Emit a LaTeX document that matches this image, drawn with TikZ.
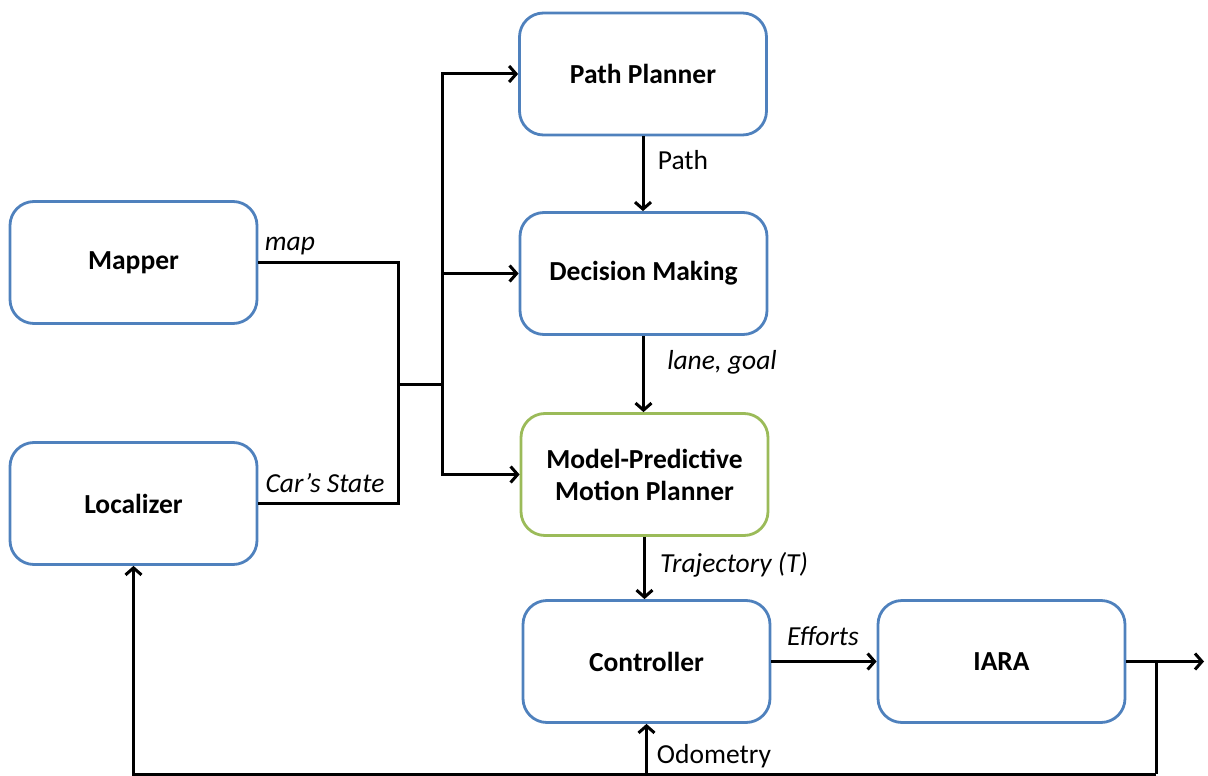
\documentclass[tikz,border=0pt]{standalone}
\usepackage{fontspec}
\setmainfont{Carlito}
\usetikzlibrary{arrows.meta}
\definecolor{boxblue}{RGB}{79,129,189}
\definecolor{boxgreen}{RGB}{155,187,89}
\begin{document}
\begin{tikzpicture}[x=1pt,y=-1pt,
  box/.style={draw=boxblue, line width=2.8pt, rounded corners=24pt, minimum width=247pt, minimum height=122pt, align=center, font=\fontsize{27.5}{32}\selectfont\bfseries, inner sep=0pt},
  conn/.style={line width=3pt, -{Straight Barb[length=7pt,width=16pt]}},
  wire/.style={line width=3pt},
  lbl/.style={font=\fontsize{27.5}{32}\selectfont, inner sep=0pt},
  ilbl/.style={font=\fontsize{27.5}{32}\selectfont\itshape, inner sep=0pt}]
\useasboundingbox (0,0) rectangle (1208,776);
\node[box] (pp) at (643,74) {Path Planner};
\node[box] (dm) at (643.5,273.5) {Decision Making};
\node[box, draw=boxgreen] (mp) at (644.5,474.5) {Model-Predictive\\Motion Planner};
\node[box] (map) at (133.5,262.5) {Mapper};
\node[box] (loc) at (133.5,503.5) {Localizer};
\node[box] (ctl) at (646.5,661.5) {Controller};
\node[box] (iara) at (1001.5,661.5) {IARA};
\coordinate (ja) at (398,384);
\coordinate (jb) at (442,384);
\draw[wire] (map.east) -| (ja) |- (loc.east);
\draw[wire] (ja) -- (jb);
\draw[conn] (jb) |- (pp.west);
\draw[conn] (jb) |- (dm.west);
\draw[conn] (jb) |- (mp.west);
\draw[conn] (pp.south) -- (pp.south |- dm.north);
\draw[conn] (dm.south) -- (dm.south |- mp.north);
\draw[conn] (mp.south) -- (mp.south |- ctl.north);
\draw[conn] (ctl.east) -- (iara.west);
\coordinate (out) at (1204,661.5);
\draw[conn] (iara.east) -- (out);
\coordinate (fb) at (1156,661.5);
\coordinate (bot) at (1156,774);
\draw[wire] (fb) -- (bot);
\draw[conn] (bot) -- (bot -| loc.south) -- (loc.south);
\draw[conn] (bot -| ctl.south) -- (ctl.south);
\node[ilbl] (lmap) at (290,246) {map};
\node[ilbl] (lcar) at (325,483) {Car’s State};
\node[lbl] (lpath) at (683,160) {Path};
\node[ilbl] (llane) at (722,362) {lane, goal};
\node[ilbl] (ltraj) at (734,565) {Trajectory (T)};
\node[ilbl] (leff) at (823,636) {Efforts};
\node[lbl] (lodo) at (714,756) {Odometry};
\end{tikzpicture}
\end{document}
